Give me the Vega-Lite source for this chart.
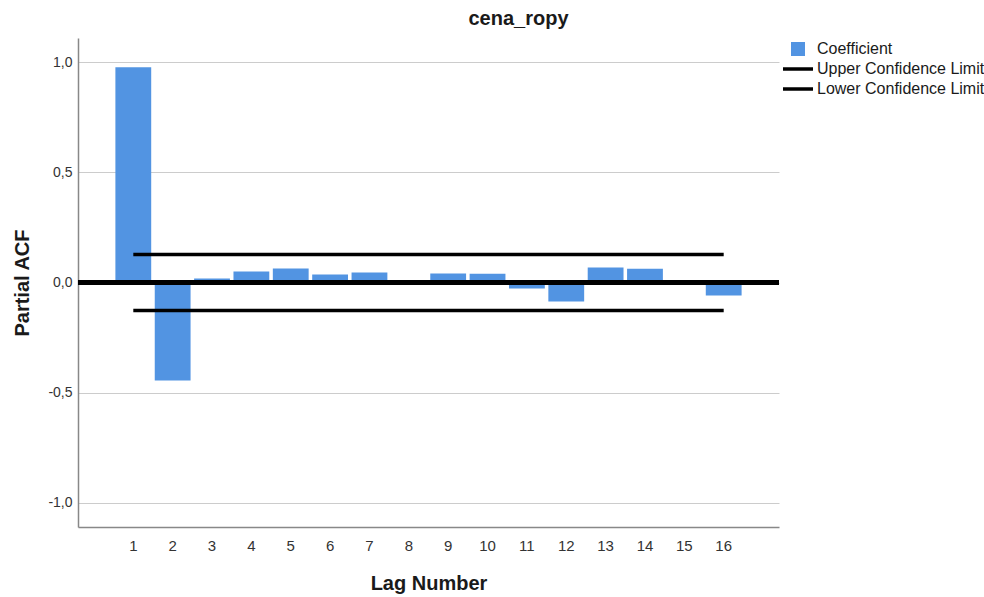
{
  "$schema": "https://vega.github.io/schema/vega-lite/v6.json",
  "autosize": "none",
  "width": 701,
  "height": 489,
  "padding": {"left": 78, "top": 38, "right": 205, "bottom": 70},
  "background": "white",
  "title": {"text": "cena_ropy", "fontSize": 20, "font": "Liberation Sans", "fontWeight": "bold", "color": "#1a1a1a", "anchor": "middle", "offset": 9, "dx": 90},
  "config": {
    "font": "Liberation Sans",
    "view": {"stroke": null}
  },
  "data": {"values": [
    {"lag": 1, "value": 0.977, "series": "Coefficient"},
    {"lag": 2, "value": -0.445, "series": "Coefficient"},
    {"lag": 3, "value": 0.018, "series": "Coefficient"},
    {"lag": 4, "value": 0.05, "series": "Coefficient"},
    {"lag": 5, "value": 0.064, "series": "Coefficient"},
    {"lag": 6, "value": 0.036, "series": "Coefficient"},
    {"lag": 7, "value": 0.045, "series": "Coefficient"},
    {"lag": 8, "value": 0.002, "series": "Coefficient"},
    {"lag": 9, "value": 0.041, "series": "Coefficient"},
    {"lag": 10, "value": 0.04, "series": "Coefficient"},
    {"lag": 11, "value": -0.027, "series": "Coefficient"},
    {"lag": 12, "value": -0.086, "series": "Coefficient"},
    {"lag": 13, "value": 0.068, "series": "Coefficient"},
    {"lag": 14, "value": 0.062, "series": "Coefficient"},
    {"lag": 15, "value": -0.004, "series": "Coefficient"},
    {"lag": 16, "value": -0.059, "series": "Coefficient"},
    {"lag": 1, "value": 0.127, "series": "Upper Confidence Limit"},
    {"lag": 16, "value": 0.127, "series": "Upper Confidence Limit"},
    {"lag": 1, "value": -0.127, "series": "Lower Confidence Limit"},
    {"lag": 16, "value": -0.127, "series": "Lower Confidence Limit"}
  ]},
  "encoding": {
    "x": {
      "field": "lag", "type": "ordinal",
      "scale": {"paddingInner": 0.09, "paddingOuter": 0.95},
      "axis": {
        "title": "Lag Number", "titleFontSize": 20, "titleFontWeight": "bold", "titleColor": "#1a1a1a", "titlePadding": 20,
        "labelAngle": 0, "labelFontSize": 15, "labelColor": "#333333", "labelPadding": 11,
        "ticks": false, "domainColor": "#888888", "domainWidth": 1.5, "grid": false
      }
    },
    "y": {
      "field": "value", "type": "quantitative",
      "scale": {"domain": [-1.11, 1.11], "nice": false, "zero": false},
      "axis": {
        "title": "Partial ACF", "titleFontSize": 20, "titleFontWeight": "bold", "titleColor": "#1a1a1a", "titlePadding": 15,
        "values": [-1, -0.5, 0, 0.5, 1],
        "labelExpr": "replace(replace(format(datum.value, '.1f'), '.', ','), '\u2212', '-')",
        "labelFontSize": 14, "labelColor": "#333333", "labelPadding": 6,
        "ticks": false, "domainColor": "#888888", "domainWidth": 1.5,
        "grid": true, "gridColor": "#cccccc", "gridWidth": 1
      }
    },
    "color": {
      "field": "series", "type": "nominal",
      "scale": {"domain": ["Coefficient", "Upper Confidence Limit", "Lower Confidence Limit"], "range": ["#5294e2", "#000000", "#000000"]},
      "legend": {
        "title": null, "orient": "none", "legendX": 712, "legendY": 3,
        "labelFontSize": 16, "labelColor": "#1a1a1a", "labelOffset": 11, "labelLimit": 400,
        "symbolSize": 900, "rowPadding": 4,
        "encode": {
          "symbols": {"update": {
            "shape": {"signal": "datum.label === 'Coefficient' ? 'square' : 'stroke'"},
            "size": {"signal": "datum.label === 'Coefficient' ? 196 : 900"},
            "fill": {"signal": "datum.label === 'Coefficient' ? '#5294e2' : '#000000'"},
            "stroke": {"signal": "datum.label === 'Coefficient' ? '#5294e2' : '#000000'"},
            "strokeWidth": {"signal": "datum.label === 'Coefficient' ? 0 : 3.5"},
            "opacity": {"value": 1}
          }}
        }
      }
    }
  },
  "layer": [
    {
      "transform": [{"filter": "datum.series === 'Coefficient'"}],
      "mark": {"type": "bar", "opacity": 1}
    },
    {
      "transform": [{"filter": "datum.series !== 'Coefficient'"}],
      "mark": {"type": "line", "strokeWidth": 3.5, "strokeCap": "butt"},
      "encoding": {"detail": {"field": "series"}}
    },
    {
      "mark": {"type": "rule", "color": "#000000", "strokeWidth": 3.5},
      "encoding": {"y": {"datum": 0}, "x": null, "color": null}
    }
  ]
}
